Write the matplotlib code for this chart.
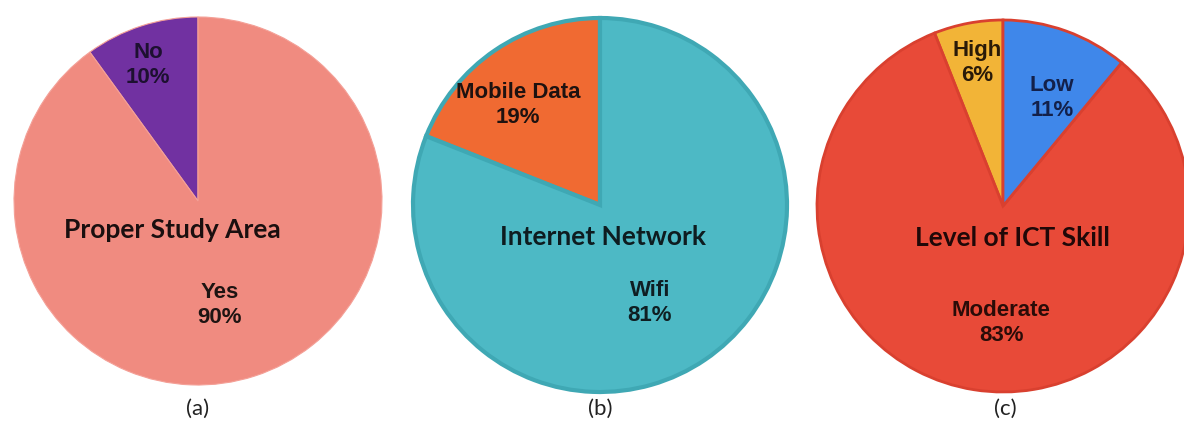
import matplotlib
matplotlib.use("Agg")
import matplotlib.pyplot as plt

# ---- data ----
study_labels = ["No", "Yes"]
study_values = [10, 90]
network_labels = ["Mobile Data", "Wifi"]
network_values = [19, 81]
ict_labels = ["High", "Moderate", "Low"]
ict_values = [6, 83, 11]
titles = ["Proper Study Area", "Internet Network", "Level of ICT Skill"]
captions = ["(a)", "(b)", "(c)"]

W, H = 1184, 432
fig = plt.figure(figsize=(W / 100, H / 100), dpi=100)
ax = fig.add_axes([0, 0, 1, 1])

LBL = dict(family="Liberation Sans", weight="bold", fontsize=16,
           ha="center", va="center", linespacing=1.25)
TTL = dict(family="Lato", weight="bold", fontsize=19, ha="center", va="center")
CAP = dict(family="Lato", fontsize=16, ha="center", va="center", color="#222222")

# ---- pie (a) ----
ax.pie(study_values, colors=["#7131A1", "#F08B80"], startangle=90,
       counterclock=True, center=(198, 231), radius=184, frame=True,
       wedgeprops=dict(edgecolor="#F4A097", linewidth=0.8))
ax.text(148, H - 65, f"{study_labels[0]}\n{study_values[0]}%", color="#1d1030", **LBL)
ax.text(220, H - 305, f"{study_labels[1]}\n{study_values[1]}%", color="#1e1412", **LBL)
ax.text(172, H - 230, titles[0], color="#1a0f0f", **TTL)

# ---- pie (b) ----
ax.pie(network_values, colors=["#F06A32", "#4DB9C5"], startangle=90,
       counterclock=True, center=(600, 227), radius=187, frame=True,
       wedgeprops=dict(edgecolor="#3FA8B4", linewidth=3))
ax.text(518, H - 105, f"{network_labels[0]}\n{network_values[0]}%", color="#1e1210", **LBL)
ax.text(650, H - 303, f"{network_labels[1]}\n{network_values[1]}%", color="#0f1e22", **LBL)
ax.text(603, H - 237, titles[1], color="#0e1c20", **TTL)

# ---- pie (c) ----
ax.pie(ict_values, colors=["#F2B437", "#E84A38", "#3F87EA"], startangle=90,
       counterclock=True, center=(1003, 226), radius=186, frame=True,
       wedgeprops=dict(edgecolor="#D9402F", linewidth=2))
ax.text(977, H - 63, f"{ict_labels[0]}\n{ict_values[0]}%", color="#2a1a08", **LBL)
ax.text(1052, H - 98, f"{ict_labels[2]}\n{ict_values[2]}%", color="#13204a", **LBL)
ax.text(1001, H - 323, f"{ict_labels[1]}\n{ict_values[1]}%", color="#2a0c08", **LBL)
ax.text(1012, H - 238, titles[2], color="#200808", **TTL)

ax.set_xlim(0, W)
ax.set_ylim(0, H)
ax.set_aspect("equal")
ax.axis("off")

for x, c in zip([198, 600, 1005], captions):
    ax.text(x, H - 409, c, **CAP)

fig.savefig("out.png", dpi=100, facecolor="white")
